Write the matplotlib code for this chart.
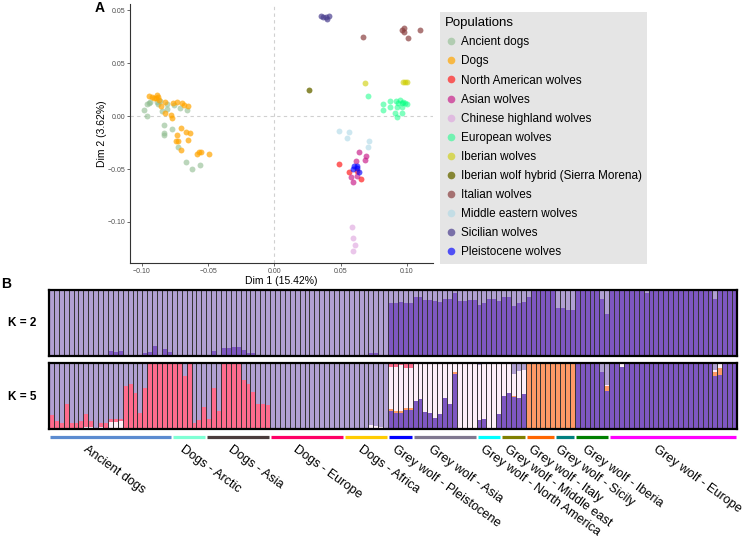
import numpy as np
import matplotlib.pyplot as plt
import matplotlib.transforms as mtransforms
from matplotlib.lines import Line2D

plt.rcParams['font.family'] = ['Liberation Sans', 'DejaVu Sans']

# ---- Panel A: PCA coordinates (Dim 1, Dim 2) ----
ancient_x = [-0.095, -0.094, -0.096, -0.089, -0.086, -0.088, -0.0985, -0.096, -0.081, -0.081, -0.076,
             -0.071, -0.066, -0.085, -0.083, -0.077, -0.083, -0.083, -0.073, -0.067, -0.062, -0.056]
ancient_y = [0.0125, 0.0135, 0.0113, 0.0135, 0.0144, 0.0113, 0.0057, 0.0003, 0.0113, 0.0063, 0.0104,
             0.0073, 0.0057, 0.0050, -0.0085, -0.0125, -0.0158, -0.0182, -0.0290, -0.0437, -0.0497, -0.0462]
dogs_x = [-0.0945, -0.0927, -0.0907, -0.0889, -0.0882, -0.0897, -0.0869, -0.0826, -0.0768, -0.0738,
          -0.0698, -0.0681, -0.0653, -0.0857, -0.0826, -0.0781, -0.0776, -0.0706, -0.0668, -0.0638,
          -0.0738, -0.0651, -0.0743, -0.0731, -0.0708, -0.0587, -0.0568, -0.0557, -0.0494]
dogs_y = [0.0192, 0.0182, 0.0173, 0.0198, 0.0182, 0.0167, 0.0151, 0.0135, 0.0125, 0.0135,
          0.0125, 0.0107, 0.0094, 0.0094, 0.0025, 0.0009, -0.0016, -0.0113, -0.0148, -0.0163,
          -0.0182, -0.0224, -0.0236, -0.0236, -0.0321, -0.0358, -0.0337, -0.0337, -0.0361]
na_x = [0.0489, 0.0562, 0.0653, 0.0625]
na_y = [-0.0456, -0.0531, -0.0594, -0.0516]
asian_x = [0.0640, 0.0693, 0.0683, 0.0613, 0.0577, 0.0590, 0.0625]
asian_y = [-0.0342, -0.0380, -0.0418, -0.0422, -0.0573, -0.0625, -0.0563]
chinese_x = [0.0587, 0.0595, 0.0610, 0.0595]
chinese_y = [-0.1047, -0.1148, -0.1220, -0.1276]
european_x = [0.0708, 0.0817, 0.0817, 0.0872, 0.0872, 0.0915, 0.0947, 0.0960, 0.0972, 0.0985,
              0.1002, 0.0922, 0.0960, 0.0909, 0.0960, 0.0922, 0.0934]
european_y = [0.0192, 0.0116, 0.0059, 0.0144, 0.0088, 0.0144, 0.0151, 0.0120, 0.0135, 0.0120,
              0.0113, 0.0088, 0.0088, 0.0031, 0.0031, -0.0007, 0.0120]
iberian_x = [0.0683, 0.0972, 0.0985, 0.1002]
iberian_y = [0.0314, 0.0321, 0.0318, 0.0324]
hybrid_x = [0.0258]
hybrid_y = [0.0242]
italian_x = [0.0670, 0.0960, 0.0977, 0.0977, 0.1010, 0.1098]
italian_y = [0.0742, 0.0811, 0.0827, 0.0795, 0.0733, 0.0811]
mideast_x = [0.0489, 0.0565, 0.0549, 0.0713, 0.0708]
mideast_y = [-0.0142, -0.0154, -0.0203, -0.0236, -0.0290]
sicilian_x = [0.0351, 0.0368, 0.0389, 0.0398, 0.0411]
sicilian_y = [0.0943, 0.0937, 0.0931, 0.0918, 0.0946]
pleisto_x = [0.0602, 0.0625, 0.0595, 0.0640, 0.0620]
pleisto_y = [-0.0472, -0.0469, -0.0500, -0.0531, -0.0488]

pops = [
    ("Ancient dogs", ancient_x, ancient_y, '#8FBC8F', 0.6),
    ("Dogs", dogs_x, dogs_y, '#FFA500', 0.7),
    ("North American wolves", na_x, na_y, '#FF2020', 0.7),
    ("Asian wolves", asian_x, asian_y, '#C71585', 0.65),
    ("Chinese highland wolves", chinese_x, chinese_y, '#DDA0DD', 0.6),
    ("European wolves", european_x, european_y, '#00FF7F', 0.5),
    ("Iberian wolves", iberian_x, iberian_y, '#CDCD00', 0.6),
    ("Iberian wolf hybrid (Sierra Morena)", hybrid_x, hybrid_y, '#6E6E08', 0.8),
    ("Italian wolves", italian_x, italian_y, '#8B4040', 0.7),
    ("Middle eastern wolves", mideast_x, mideast_y, '#ADD8E6', 0.6),
    ("Sicilian wolves", sicilian_x, sicilian_y, '#4B3F8F', 0.7),
    ("Pleistocene wolves", pleisto_x, pleisto_y, '#0000FF', 0.65),
]

# ---- Panel B: admixture proportions ----
group_names = ["Ancient dogs", "Dogs - Arctic", "Dogs - Asia", "Dogs - Europe", "Dogs - Africa",
               "Grey wolf - Pleistocene", "Grey wolf - Asia", "Grey wolf - North America",
               "Grey wolf - Middle east", "Grey wolf - Italy", "Grey wolf - Sicily",
               "Grey wolf - Iberia", "Grey wolf - Europe"]
group_sizes = [25, 7, 13, 15, 9, 5, 13, 5, 5, 6, 4, 7, 26]
group_colors = ['#5B8BD0', '#7FFFD4', '#4A3C3C', '#FF0066', '#FFCC00', '#0000FF', '#807890',
                '#00FFFF', '#808000', '#FF6600', '#008080', '#008000', '#FF00FF']

# K = 2: wolf component (rest is dog component)
k2_wolf = ([0, 0, 0, 0, 0, 0, 0, 0.01, 0, 0, 0, 0, 0.07, 0.06, 0.08, 0, 0, 0, 0, 0.05, 0.06, 0.15, 0, 0.11, 0.06]
           + [0] * 7
           + [0, 0.08, 0, 0.12, 0.12, 0.14, 0.13, 0.09, 0.05, 0.04, 0, 0, 0]
           + [0] * 15
           + [0, 0, 0, 0, 0, 0.05, 0.04, 0.02, 0]
           + [0.81, 0.81, 0.82, 0.81, 0.81]
           + [0.89, 0.89, 0.85, 0.85, 0.83, 0.82, 0.86, 0.86, 0.95, 0.84, 0.84, 0.85, 0.85]
           + [0.78, 0.80, 0.87, 0.87, 0.84]
           + [0.89, 0.90, 0.76, 0.80, 0.82]
           + [0.89, 1, 1, 1, 1, 1]
           + [0.72, 0.72, 0.70, 0.70]
           + [1, 1, 1, 1, 1, 0.86, 0.64]
           + [1, 1, 1, 1, 0.99, 1, 1, 0.96, 1, 1, 1, 1, 1, 1, 1, 1, 1, 1, 1, 1, 1, 0.87, 1, 0.99, 1, 1])

# K = 5 components (light purple fills the rest of each bar)
k5_dark = ([0] * 69
           + [0.27, 0.24, 0.24, 0.28, 0.28]
           + [0.42, 0.45, 0.25, 0.23, 0.16, 0.22, 0.46, 0.37, 0.83, 0, 0, 0, 0]
           + [0.13, 0.14, 0, 0, 0.22]
           + [0.50, 0.54, 0.47, 0.46, 0.52]
           + [0] * 10
           + [1, 1, 1, 1, 0.98, 0.85, 0.57]
           + [1, 1, 0.93, 0.97, 1, 1, 1, 0.99, 1, 1, 0.97, 0.97, 1, 1, 1, 1, 1, 1, 1, 0.97, 0.97, 0.80, 0.81, 0.985, 1, 1])
k5_orange = ([0] * 69
             + [0.03] * 5
             + [0, 0, 0, 0, 0, 0, 0, 0, 0.03, 0, 0, 0, 0]
             + [0] * 5
             + [0, 0, 0.02, 0, 0]
             + [1] * 10
             + [0, 0, 0, 0, 0.02, 0, 0.07]
             + [0] * 10 + [0.03, 0.03] + [0] * 7 + [0.03, 0.03, 0.06, 0.10, 0.015, 0, 0])
k5_white = ([0, 0, 0, 0, 0, 0, 0, 0.03, 0.02, 0, 0.03, 0, 0.10, 0.10, 0.12] + [0] * 10
            + [0] * 7 + [0] * 13 + [0] * 15
            + [0, 0, 0, 0, 0, 0.06, 0.04, 0.02, 0]
            + [0.63, 0.66, 0.69, 0.61, 0.61]
            + [0.58, 0.55, 0.75, 0.77, 0.82, 0.76, 0.51, 0.60, 0.12, 1, 1, 1, 1]
            + [0.83, 0.83, 1, 1, 0.78]
            + [0.47, 0.44, 0.34, 0.41, 0.37]
            + [0] * 10
            + [0, 0, 0, 0, 0, 0.01, 0.02]
            + [0, 0, 0.07, 0.03] + [0] * 17 + [0.02, 0.09, 0, 0, 0])
k5_pink = ([0.21, 0.11, 0.09, 0.37, 0.09, 0.09, 0.12, 0.19, 0.10, 0, 0.06, 0.09, 0.05, 0.05, 0.03,
            0.65, 0.68, 0.54, 0.24, 0.62, 1, 1, 1, 1, 1]
           + [1, 1, 0.79, 0.97, 0.08, 0.13, 0.33]
           + [0.15, 0.61, 0.27, 1, 1, 1, 1, 0.74, 0.68, 0.55, 0.37, 0.37, 0.35]
           + [0] * 15 + [0] * 9
           + [0.07, 0.07, 0.04, 0.08, 0.08]
           + [0, 0, 0, 0, 0.02, 0.02, 0, 0, 0, 0, 0, 0, 0]
           + [0] * 53)

light_c = '#B1A0D3'
dark_c = '#7E57C2'
orange_c = '#FF9966'
white_c = '#FDEFF9'
pink_c = '#FF6B8D'

fig = plt.figure(figsize=(7.5, 5.37), dpi=100)

# ---------------- Panel A ----------------
ax = fig.add_axes([130 / 750, 1 - 263 / 537, 303 / 750, 259 / 537])
ax.axhline(0, color='#D0D0D0', ls=(0, (3, 3)), lw=0.8, zorder=0)
ax.axvline(0, color='#D0D0D0', ls=(0, (3, 3)), lw=0.8, zorder=0)
handles = []
for name, xs, ys, col, a in pops:
    ax.scatter(xs, ys, s=18, color=col, alpha=a, linewidths=0, zorder=2)
    handles.append(Line2D([], [], marker='o', ls='', markersize=5.5, markerfacecolor=col,
                          markeredgewidth=0, alpha=a, label=name))
ax.set_xlim(-0.109, 0.1196)
ax.set_ylim(-0.1387, 0.1057)
ax.set_xticks([-0.1, -0.05, 0, 0.05, 0.1])
ax.set_xticklabels(['\u22120.10', '\u22120.05', '0.00', '0.05', '0.10'])
ax.set_yticks([-0.1, -0.05, 0, 0.05, 0.1])
ax.set_yticklabels(['\u22120.10', '\u22120.05', '0.00', '0.05', '0.05'])
ax.tick_params(labelsize=5, colors='#4D4D4D', length=2, width=0.6, pad=1.5)
for s in ['top', 'right']:
    ax.spines[s].set_visible(False)
for s in ['left', 'bottom']:
    ax.spines[s].set_color('#333333')
    ax.spines[s].set_linewidth(0.8)
ax.set_xlabel('Dim 1 (15.42%)', fontsize=7.5, labelpad=0.5)
ax.set_ylabel('Dim 2 (3.62%)', fontsize=7.5, labelpad=0)

leg = fig.legend(handles=handles, loc='upper left', bbox_to_anchor=(440 / 750, 1 - 12 / 537),
                 title='Populations', alignment='left', fontsize=8.5, title_fontsize=9.5,
                 frameon=True, facecolor='#E5E5E5', edgecolor='none', fancybox=False,
                 framealpha=1, labelspacing=0.6, handletextpad=0.3, handlelength=1.0,
                 borderpad=0.45, borderaxespad=0)

fig.text(100 / 750, 1 - 8 / 537, 'A', fontsize=10, weight='bold', ha='center', va='center')
fig.text(6 / 750, 1 - 284 / 537, 'B', fontsize=10, weight='bold', ha='center', va='center')

# ---------------- Panel B ----------------
n = sum(group_sizes)
idx = np.arange(n)
ax2 = fig.add_axes([49 / 750, 1 - 356 / 537, 688 / 750, 66 / 537])
ax5 = fig.add_axes([49 / 750, 1 - 428.5 / 537, 688 / 750, 66 / 537])

w2 = np.array(k2_wolf, dtype=float)
ax2.bar(idx, w2, width=1, align='edge', color=dark_c, lw=0)
ax2.bar(idx, 1 - w2, bottom=w2, width=1, align='edge', color=light_c, lw=0)

bottom = np.zeros(n)
for vals, col in [(k5_dark, dark_c), (k5_orange, orange_c), (k5_white, white_c), (k5_pink, pink_c)]:
    v = np.array(vals, dtype=float)
    ax5.bar(idx, v, bottom=bottom, width=1, align='edge', color=col, lw=0)
    bottom = bottom + v
ax5.bar(idx, np.clip(1 - bottom, 0, None), bottom=bottom, width=1, align='edge', color=light_c, lw=0)

for a in [ax2, ax5]:
    a.vlines(np.arange(1, n), 0, 1, color='#333333', lw=0.7)
    a.set_xlim(0, n)
    a.set_ylim(0, 1)
    a.set_xticks([])
    a.set_yticks([])
    for s in a.spines.values():
        s.set_linewidth(1.6)
        s.set_color('black')

fig.text(22 / 750, 1 - 323 / 537, 'K = 2', fontsize=8.5, weight='bold', ha='center', va='center')
fig.text(22 / 750, 1 - 397 / 537, 'K = 5', fontsize=8.5, weight='bold', ha='center', va='center')

# group bars and labels under the K=5 panel
label_pos = [7.9, 27.7, 37.4, 50.7, 63.9, 70.8, 78.1, 88.7, 93.6, 98.5, 104.0, 109.5, 123.9]
trans = mtransforms.blended_transform_factory(ax5.transData, ax5.transAxes)
starts = np.concatenate([[0], np.cumsum(group_sizes)[:-1]])
for st, size, col, name, lp in zip(starts, group_sizes, group_colors, group_names, label_pos):
    ax5.plot([st + 0.2, st + size - 0.2], [-0.133, -0.133], color=col, lw=2.3,
             transform=trans, clip_on=False, solid_capstyle='butt')
    ax5.text(lp, -0.22, name, transform=trans, rotation=-36, rotation_mode='anchor',
             ha='left', va='top', fontsize=9.1)

fig.savefig('out.png', dpi=100)
